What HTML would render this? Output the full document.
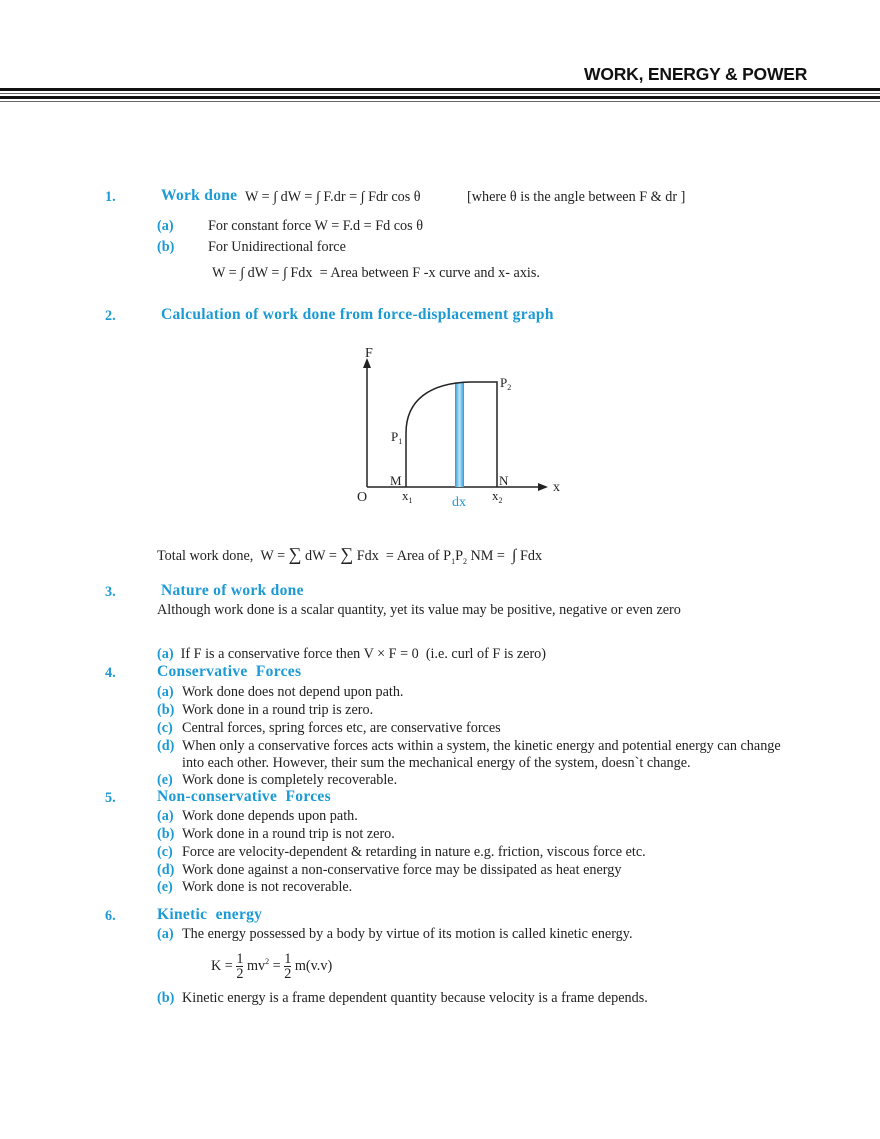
<!DOCTYPE html>
<html><head><meta charset="utf-8"><style>
body{margin:0;width:880px;height:1139px;position:relative;background:#fff;font-family:"Liberation Serif",serif;font-size:14.2px;color:#222;overflow:hidden}
.t{position:absolute;white-space:nowrap;line-height:16px}
.b{color:#1b9ad4;font-weight:bold}
.h{color:#1b9ad4;font-weight:bold;font-size:15.5px;letter-spacing:0.3px}
.bar{position:absolute;left:0;width:880px;background:#111}
sub,sup{font-size:8px}
</style></head><body>
<div class="t" style="left:584px;top:66px;font-family:'Liberation Sans',sans-serif;font-weight:bold;font-size:17.5px;color:#111;letter-spacing:-0.2px">WORK, ENERGY &amp; POWER</div>
<div class="bar" style="top:88px;height:3px"></div>
<div class="bar" style="top:93px;height:1px;background:#666"></div>
<div class="bar" style="top:96px;height:3px"></div>
<div class="bar" style="top:101px;height:1px;background:#666"></div>

<div class="t b" style="left:105px;top:189px">1.</div>
<div class="t h" style="left:161px;top:188px">Work done</div>
<div class="t" style="left:245px;top:189px">W = ∫ dW = ∫ F.dr = ∫ Fdr cos θ</div>
<div class="t" style="left:467px;top:189px">[where θ is the angle between F &amp; dr ]</div>
<div class="t b" style="left:157px;top:218px">(a)</div>
<div class="t" style="left:208px;top:218px">For constant force W = F.d = Fd cos θ</div>
<div class="t b" style="left:157px;top:239px">(b)</div>
<div class="t" style="left:208px;top:239px">For Unidirectional force</div>
<div class="t" style="left:212px;top:265px">W = ∫ dW = ∫ Fdx &nbsp;= Area between F -x curve and x- axis.</div>

<div class="t b" style="left:105px;top:308px">2.</div>
<div class="t h" style="left:161px;top:307px">Calculation of work done from force-displacement graph</div>

<svg style="position:absolute;left:0;top:0" width="880" height="1139">
<defs><linearGradient id="g" x1="0" x2="1"><stop offset="0" stop-color="#2a9ad8"/><stop offset=".5" stop-color="#bfe4f7"/><stop offset="1" stop-color="#2a9ad8"/></linearGradient></defs>
<line x1="367" y1="487" x2="367" y2="366" stroke="#222" stroke-width="1.5"/>
<polygon points="367,358 363,368 371,368" fill="#222"/>
<line x1="367" y1="487" x2="540" y2="487" stroke="#222" stroke-width="1.5"/>
<polygon points="548,487 538,483 538,491" fill="#222"/>
<rect x="455" y="383" width="9" height="104" fill="url(#g)"/>
<path d="M406,487 V433 C406,400 430,383 470,382 L497,382 V487" fill="none" stroke="#222" stroke-width="1.5"/>
<text x="365" y="357" font-family="Liberation Serif" font-size="14" fill="#222">F</text>
<text x="500" y="387" font-family="Liberation Serif" font-size="13" fill="#222">P<tspan font-size="8" dy="3">2</tspan></text>
<text x="391" y="441" font-family="Liberation Serif" font-size="13" fill="#222">P<tspan font-size="8" dy="3">1</tspan></text>
<text x="390" y="485" font-family="Liberation Serif" font-size="13" fill="#222">M</text>
<text x="499" y="485" font-family="Liberation Serif" font-size="13" fill="#222">N</text>
<text x="357" y="501" font-family="Liberation Serif" font-size="14" fill="#222">O</text>
<text x="402" y="500" font-family="Liberation Serif" font-size="13" fill="#222">x<tspan font-size="8" dy="3">1</tspan></text>
<text x="492" y="500" font-family="Liberation Serif" font-size="13" fill="#222">x<tspan font-size="8" dy="3">2</tspan></text>
<text x="553" y="491" font-family="Liberation Serif" font-size="14" fill="#222">x</text>
<text x="452" y="506" font-family="Liberation Serif" font-size="14" fill="#1b9ad4">dx</text>
</svg>

<div class="t" style="left:157px;top:546px">Total work done, &nbsp;W = <span style="font-size:18px">∑</span> dW = <span style="font-size:18px">∑</span> Fdx &nbsp;= Area of P<sub>1</sub>P<sub>2</sub> NM = &nbsp;<span style="font-size:16px">∫</span> Fdx</div>

<div class="t b" style="left:105px;top:584px">3.</div>
<div class="t h" style="left:161px;top:583px">Nature of work done</div>
<div class="t" style="left:157px;top:602px">Although work done is a scalar quantity, yet its value may be positive, negative or even zero</div>
<div class="t" style="left:157px;top:646px"><span class="b">(a)</span> &nbsp;If F is a conservative force then V × F = 0 &nbsp;(i.e. curl of F is zero)</div>

<div class="t b" style="left:105px;top:665px">4.</div>
<div class="t h" style="left:157px;top:664px">Conservative &nbsp;Forces</div>
<div class="t b" style="left:157px;top:684px">(a)</div><div class="t" style="left:182px;top:684px">Work done does not depend upon path.</div>
<div class="t b" style="left:157px;top:702px">(b)</div><div class="t" style="left:182px;top:702px">Work done in a round trip is zero.</div>
<div class="t b" style="left:157px;top:720px">(c)</div><div class="t" style="left:182px;top:720px">Central forces, spring forces etc, are conservative forces</div>
<div class="t b" style="left:157px;top:738px">(d)</div><div class="t" style="left:182px;top:738px">When only a conservative forces acts within a system, the kinetic energy and potential energy can change</div>
<div class="t" style="left:182px;top:755px">into each other. However, their sum the mechanical energy of the system, doesn`t change.</div>
<div class="t b" style="left:157px;top:772px">(e)</div><div class="t" style="left:182px;top:772px">Work done is completely recoverable.</div>

<div class="t b" style="left:105px;top:790px">5.</div>
<div class="t h" style="left:157px;top:789px">Non-conservative &nbsp;Forces</div>
<div class="t b" style="left:157px;top:808px">(a)</div><div class="t" style="left:182px;top:808px">Work done depends upon path.</div>
<div class="t b" style="left:157px;top:826px">(b)</div><div class="t" style="left:182px;top:826px">Work done in a round trip is not zero.</div>
<div class="t b" style="left:157px;top:844px">(c)</div><div class="t" style="left:182px;top:844px">Force are velocity-dependent &amp; retarding in nature e.g. friction, viscous force etc.</div>
<div class="t b" style="left:157px;top:862px">(d)</div><div class="t" style="left:182px;top:862px">Work done against a non-conservative force may be dissipated as heat energy</div>
<div class="t b" style="left:157px;top:879px">(e)</div><div class="t" style="left:182px;top:879px">Work done is not recoverable.</div>

<div class="t b" style="left:105px;top:908px">6.</div>
<div class="t h" style="left:157px;top:907px">Kinetic &nbsp;energy</div>
<div class="t b" style="left:157px;top:926px">(a)</div><div class="t" style="left:182px;top:926px">The energy possessed by a body by virtue of its motion is called kinetic energy.</div>
<div class="t" style="left:211px;top:952px;line-height:16px">K = <span style="display:inline-block;text-align:center;vertical-align:middle;line-height:14px"><span style="display:block;border-bottom:1px solid #222">1</span>2</span> mv<sup>2</sup> = <span style="display:inline-block;text-align:center;vertical-align:middle;line-height:14px"><span style="display:block;border-bottom:1px solid #222">1</span>2</span> m(v.v)</div>
<div class="t b" style="left:157px;top:990px">(b)</div><div class="t" style="left:182px;top:990px">Kinetic energy is a frame dependent quantity because velocity is a frame depends.</div>
</body></html>
